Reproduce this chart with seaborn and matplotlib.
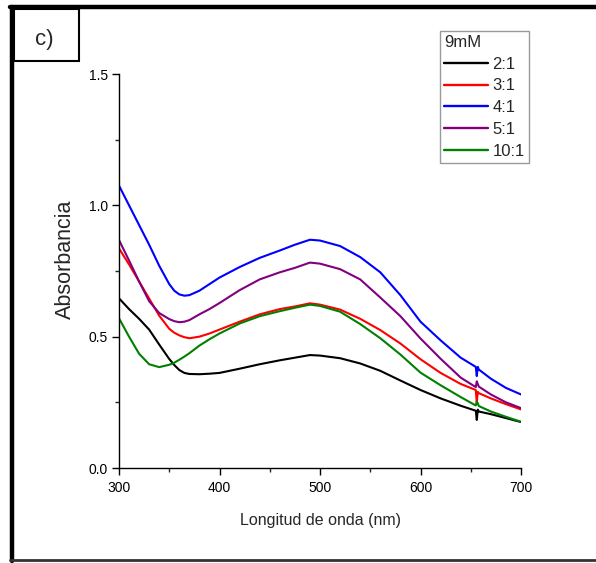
import matplotlib
matplotlib.use("Agg")
import matplotlib.pyplot as plt
from matplotlib.lines import Line2D
from matplotlib.patches import Rectangle
from matplotlib.ticker import MultipleLocator, FormatStrFormatter
import seaborn as sns
import pandas as pd

# ---------------- data ----------------
wavelength = [300, 310, 320, 330, 340, 350, 355, 360, 365, 370, 380, 390, 400, 420,
              440, 460, 475, 490, 500, 520, 540, 560, 580, 600, 620, 640, 655, 656,
              657, 658, 670, 685, 700]

abs_2_1 = [0.646, 0.605, 0.568, 0.527, 0.470, 0.415, 0.392, 0.373, 0.362, 0.358, 0.357,
           0.359, 0.362, 0.378, 0.395, 0.410, 0.420, 0.430, 0.428, 0.418, 0.398, 0.370,
           0.333, 0.297, 0.265, 0.237, 0.218, 0.183, 0.222, 0.215, 0.205, 0.190, 0.175]

abs_3_1 = [0.836, 0.775, 0.710, 0.645, 0.580, 0.530, 0.515, 0.505, 0.498, 0.494, 0.500,
           0.512, 0.527, 0.557, 0.585, 0.605, 0.615, 0.627, 0.622, 0.603, 0.568, 0.525,
           0.474, 0.414, 0.362, 0.320, 0.297, 0.250, 0.290, 0.285, 0.265, 0.243, 0.223]

abs_4_1 = [1.075, 1.000, 0.925, 0.850, 0.770, 0.700, 0.675, 0.661, 0.656, 0.658, 0.675,
           0.700, 0.725, 0.765, 0.800, 0.828, 0.850, 0.869, 0.866, 0.845, 0.803, 0.745,
           0.658, 0.557, 0.486, 0.420, 0.385, 0.350, 0.385, 0.375, 0.340, 0.305, 0.280]

abs_5_1 = [0.868, 0.790, 0.710, 0.635, 0.590, 0.567, 0.559, 0.555, 0.557, 0.563, 0.585,
           0.605, 0.628, 0.677, 0.718, 0.745, 0.762, 0.782, 0.778, 0.757, 0.718, 0.649,
           0.578, 0.493, 0.416, 0.344, 0.308, 0.330, 0.320, 0.310, 0.280, 0.250, 0.228]

abs_10_1 = [0.570, 0.500, 0.435, 0.395, 0.384, 0.393, 0.401, 0.412, 0.424, 0.437, 0.466,
            0.490, 0.512, 0.550, 0.578, 0.597, 0.610, 0.622, 0.617, 0.595, 0.548, 0.494,
            0.432, 0.363, 0.315, 0.270, 0.238, 0.252, 0.246, 0.236, 0.215, 0.195, 0.176]

ratios = ["2:1", "3:1", "4:1", "5:1", "10:1"]
series = [abs_2_1, abs_3_1, abs_4_1, abs_5_1, abs_10_1]
colors = ["#000000", "#ff0000", "#0000ff", "#800080", "#008000"]
legend_title = "9mM"
xlabel = "Longitud de onda (nm)"
ylabel = "Absorbancia"
panel_label = "c)"

frames = []
for r, vals in zip(ratios, series):
    frames.append(pd.DataFrame({"wl": wavelength, "abs": vals, "ratio": r}))
df = pd.concat(frames, ignore_index=True)

# ---------------- style ----------------
sns.set_style("ticks")
plt.rcParams["font.family"] = ["Liberation Sans", "DejaVu Sans"]

W, H = 596, 563
fig = plt.figure(figsize=(W / 100, H / 100), dpi=100)
ax = fig.add_axes([119 / W, 1 - 468 / H, (521 - 119) / W, (468 - 74) / H])

sns.lineplot(data=df, x="wl", y="abs", hue="ratio", hue_order=ratios,
             palette=dict(zip(ratios, colors)), estimator=None, sort=False,
             linewidth=1.5, legend=False, ax=ax)

ax.set_xlim(300, 700)
ax.set_ylim(0, 1.5)
ax.xaxis.set_major_locator(MultipleLocator(100))
ax.xaxis.set_minor_locator(MultipleLocator(50))
ax.yaxis.set_major_locator(MultipleLocator(0.5))
ax.yaxis.set_minor_locator(MultipleLocator(0.25))
ax.yaxis.set_major_formatter(FormatStrFormatter("%.1f"))
ax.tick_params(which="major", direction="out", length=5, width=1,
               colors="black", pad=3, labelsize=10)
ax.tick_params(which="minor", direction="out", length=3, width=1)
ax.tick_params(axis="x", which="major", pad=4)
for s in ["top", "right"]:
    ax.spines[s].set_visible(False)
for s in ["left", "bottom"]:
    ax.spines[s].set_linewidth(1)
    ax.spines[s].set_color("black")

ax.set_xlabel(xlabel, fontsize=11.5)
ax.xaxis.set_label_coords(0.5, -0.114)
ax.set_ylabel(ylabel, fontsize=15.5)
ax.yaxis.set_label_coords(-0.106, 0.53)

# legend
handles = [Line2D([0], [0], color=c, lw=1.7) for c in colors]
leg = ax.legend(handles, ratios, title=legend_title, loc="upper left",
                bbox_to_anchor=(440 / W, 1 - 31 / H), bbox_transform=fig.transFigure,
                fontsize=12, title_fontsize=12, frameon=True, fancybox=False,
                edgecolor="#999999", framealpha=1, borderpad=0.25, labelspacing=0.4,
                handlelength=2.65, handletextpad=0.25, borderaxespad=0,
                alignment="left")
leg.get_frame().set_linewidth(1.0)

# outer frame and panel label box
def px(x, y):
    return x / W, 1 - y / H

fig.add_artist(Line2D([px(12, 0)[0], px(12, 0)[0]], [px(0, 7)[1], px(0, 561)[1]],
                      transform=fig.transFigure, color="black", lw=3.2))
fig.add_artist(Line2D([px(10, 0)[0], 1], [px(0, 7)[1], px(0, 7)[1]],
                      transform=fig.transFigure, color="black", lw=3.2))
fig.add_artist(Line2D([px(10, 0)[0], 1], [px(0, 560)[1], px(0, 560)[1]],
                      transform=fig.transFigure, color="#333333", lw=2.0))
x0, y0 = px(14, 61)
x1, y1 = px(79, 9)
fig.add_artist(Rectangle((x0, y0), x1 - x0, y1 - y0, transform=fig.transFigure,
                         fill=False, edgecolor="black", lw=1.5))
fig.text(px(44, 0)[0], px(0, 40)[1], panel_label, fontsize=16, ha="center",
         va="center")

fig.savefig("out.png", dpi=100)
